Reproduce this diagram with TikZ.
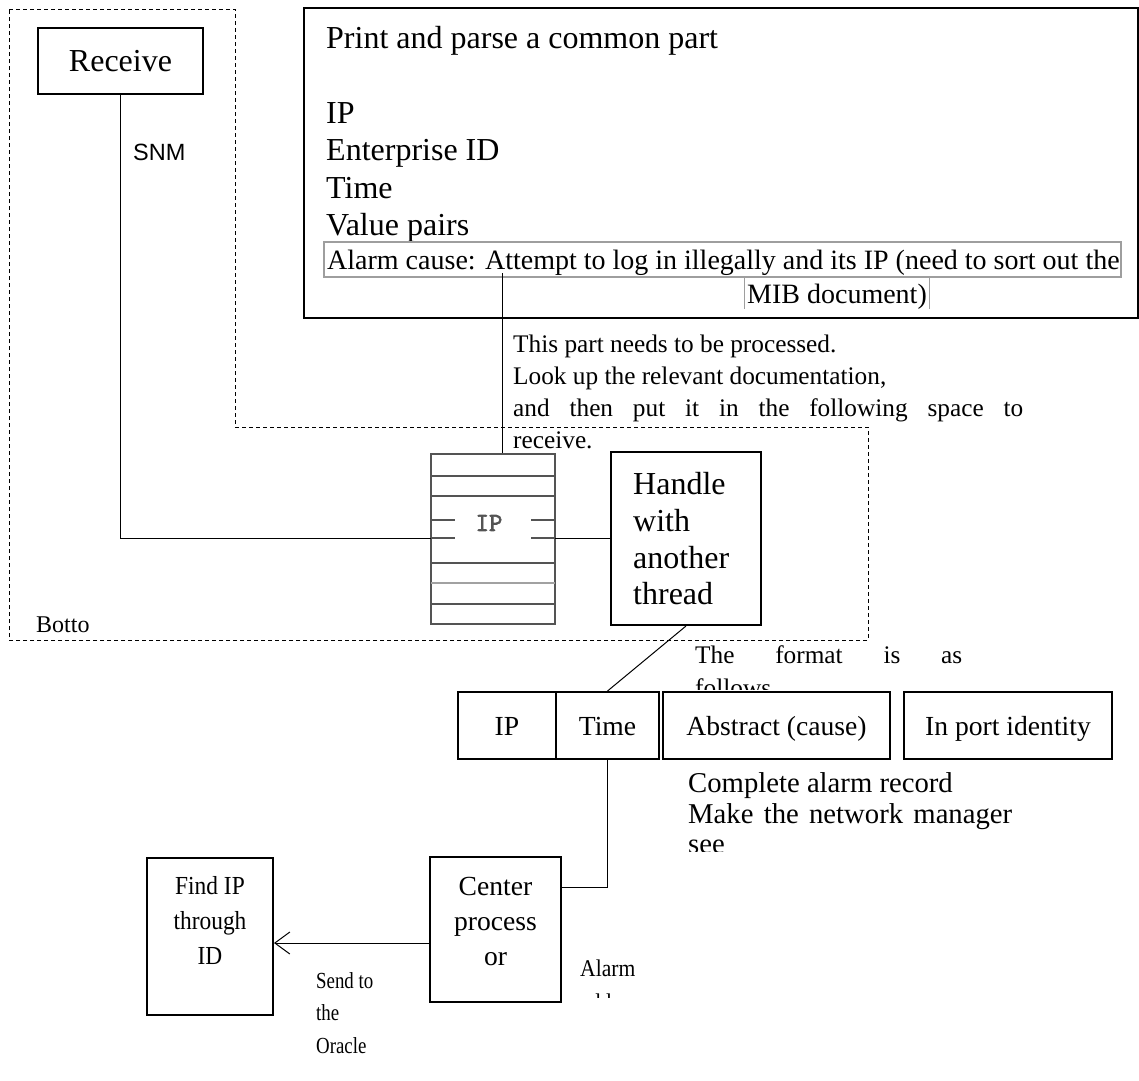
\documentclass[tikz,border=0pt]{standalone}
\usepackage{fontspec}
\setmainfont{Liberation Serif}
\newfontfamily\condA{Liberation Serif}[FakeStretch=0.9]
\newfontfamily\condB{Liberation Serif}[FakeStretch=0.82]
\newfontfamily\snmfont{Liberation Sans}
\newfontfamily\iconfont{Latin Modern Mono}[FakeBold=2.5]
\usetikzlibrary{arrows.meta}
\definecolor{iconc}{rgb}{0.33,0.33,0.33}
\definecolor{framec}{rgb}{0.62,0.62,0.62}
\begin{document}
\begin{tikzpicture}[x=1pt,y=-1pt,
  boxk/.style={draw=black, line width=2pt, inner sep=0pt},
  wire/.style={draw=black, line width=1pt},
  dashregion/.style={draw=black, line width=1pt, dash pattern=on 4pt off 3pt},
  tbig/.style={anchor=base west, inner sep=0pt, font=\fontsize{32}{37}\selectfont},
  trow/.style={anchor=base, inner sep=0pt, font=\fontsize{27.6}{32}\selectfont},
  tmid/.style={anchor=base west, inner sep=0pt, font=\fontsize{28.7}{32}\selectfont},
  tsmall/.style={anchor=base west, inner sep=0pt, font=\fontsize{25.3}{30}\selectfont},
  tcen/.style={anchor=base, inner sep=0pt, font=\fontsize{27.6}{32}\selectfont},
  tfind/.style={anchor=base, inner sep=0pt, font=\condA\fontsize{26}{30}\selectfont},
  talarmlbl/.style={anchor=base west, inner sep=0pt, font=\condA\fontsize{24}{28}\selectfont},
  tsend/.style={anchor=base west, inner sep=0pt, font=\condB\fontsize{23}{28}\selectfont},
  talarm/.style={anchor=base west, inner sep=0pt, font=\fontsize{28}{34}\selectfont},
  iconline/.style={draw=iconc, line width=2pt},
  arrowtip/.style={-{Straight Barb[length=15pt,width=22pt,line width=1pt]}}
]
\useasboundingbox (0,0) rectangle (1139,1080);
\fill[white] (0,0) rectangle (1139,1080);

% dashed region
\draw[dashregion] (9,9) -- (235,9) -- (235,427) -- (868,427) -- (868,640) -- (9,640) -- cycle;

% Receive
\node[boxk, minimum width=165pt, minimum height=66pt] (recv) at (120.5,61) {};
\node[inner sep=0pt, font=\fontsize{32}{37}\selectfont] (recvt) at (recv.center) {Receive};
\node[anchor=base west, inner sep=0pt, font=\snmfont\fontsize{23.5}{28}\selectfont] (snm) at (133,160) {SNM};

% top box
\node[boxk, minimum width=834pt, minimum height=310pt] (topbox) at (721,163) {};
\node[tbig] (t1) at (326,48) {Print and parse a common part};
\node[tbig] (t2) at (326,123) {IP};
\node[tbig] (t3) at (326,160) {Enterprise ID};
\node[tbig] (t4) at (326,198) {Time};
\node[tbig] (t5) at (326,235) {Value pairs};
\node[draw=framec, line width=1.2pt, inner sep=0pt, minimum width=797pt, minimum height=35pt] (alarmbox) at (722.5,259.5) {};
\node[talarm] (t6) at (327,269) {Alarm cause: Attempt to log in illegally and its IP (need to sort out the};
\node[inner sep=0pt, minimum width=184pt, minimum height=32pt] (mibbox) at (837,293) {};
\draw[framec, line width=1.2pt] (mibbox.north west) -- (mibbox.south west);
\draw[framec, line width=1.2pt] (mibbox.north east) -- (mibbox.south east);
\node[anchor=base, inner sep=0pt, font=\fontsize{28}{34}\selectfont] (t7) at (837,303) {MIB document)};

% text block
\node[tsmall] (p1) at (513,352) {This part needs to be processed.};
\node[tsmall] (p2) at (513,384) {Look up the relevant documentation,};
\node[tsmall] (p3) at (513,416) {\makebox[510pt][s]{and then put it in the following space to}};
\node[tsmall] (p4) at (513,448) {receive.};

% IP icon
\node[draw=iconc, line width=2pt, inner sep=0pt, minimum width=124pt, minimum height=170pt] (icon) at (493,539) {};
\draw[iconline] (431,476) -- (555,476);
\draw[iconline] (431,496) -- (555,496);
\draw[iconline] (431,520) -- (455,520);
\draw[iconline] (431,538) -- (455,538);
\draw[iconline] (531,520) -- (555,520);
\draw[iconline] (531,538) -- (555,538);
\draw[iconline] (431,563) -- (555,563);
\draw[draw=iconc!55, line width=2pt] (431,583) -- (555,583);
\draw[iconline] (431,604) -- (555,604);
\node[inner sep=0pt, font=\iconfont\fontsize{26}{26}\selectfont, text=iconc] (iptext) at (489,523) {IP};
\coordinate (iconL) at (431,538);
\coordinate (iconR) at (555,538);

% Handle box
\node[boxk, minimum width=150pt, minimum height=173pt] (handle) at (686,538.5) {};
\node[tbig] (h1) at (633,494) {Handle};
\node[tbig] (h2) at (633,531) {with};
\node[tbig] (h3) at (633,568) {another};
\node[tbig] (h4) at (633,604) {thread};

\node[anchor=base west, inner sep=0pt, font=\fontsize{24}{28}\selectfont] (botto) at (36,632) {Botto};

% connectors in upper part
\draw[wire] (recv.south) |- (iconL);
\draw[wire] (iconR) -- (iconR -| handle.west);
\coordinate (alarmPt) at (502,273);
\draw[wire] (alarmPt) -- (alarmPt |- icon.north);

% format text
\node[tsmall] (f1) at (695,663) {\makebox[267pt][s]{The format is as}};
\begin{scope}
  \clip (690,670) rectangle (1000,689);
  \node[tsmall] (f2) at (695,696) {follows};
\end{scope}

% record row
\node[boxk, minimum width=98pt, minimum height=67pt] (ipb) at (507,725.5) {};
\node[boxk, minimum width=103pt, minimum height=67pt] (timeb) at (607.5,725.5) {};
\node[boxk, minimum width=227pt, minimum height=67pt] (absb) at (776.5,725.5) {};
\node[boxk, minimum width=208pt, minimum height=67pt] (portb) at (1008,725.5) {};
\node[trow] (r1) at (507,735) {IP};
\node[trow] (r2) at (607.5,735) {Time};
\node[trow] (r3) at (776.5,735) {Abstract (cause)};
\node[trow] (r4) at (1008,735) {In port identity};

\draw[wire] (handle.south) -- (timeb.north);

% complete alarm record
\node[tmid] (c1) at (688,792) {Complete alarm record};
\node[tmid] (c2) at (688,823) {\makebox[324pt][s]{Make the network manager}};
\begin{scope}
  \clip (680,832) rectangle (800,851);
  \node[tmid] (c3) at (688,853) {see};
\end{scope}

% center processor
\node[boxk, minimum width=131pt, minimum height=145pt] (center) at (495.5,929.5) {};
\node[tcen] (cp1) at (495.5,895) {Center};
\node[tcen] (cp2) at (495.5,930) {process};
\node[tcen] (cp3) at (495.5,965) {or};

% find IP
\node[boxk, minimum width=126pt, minimum height=157pt] (findip) at (210,936.5) {};
\node[tfind] (fi1) at (210,894) {Find IP};
\node[tfind] (fi2) at (210,929) {through};
\node[tfind] (fi3) at (210,964) {ID};

% connectors lower part
\coordinate (cpR) at (561,887);
\draw[wire] (timeb.south) |- (cpR);
\coordinate (cpL) at (430,943);
\draw[wire, arrowtip] (cpL) -- (cpL -| findip.east);

% labels
\node[talarmlbl] (al1) at (580,976) {Alarm};
\begin{scope}
  \clip (575,985) rectangle (700,997);
  \node[talarmlbl] (al2) at (580,1010) {address};
\end{scope}
\node[tsend] (s1) at (316,988) {Send to};
\node[tsend] (s2) at (316,1020) {the};
\node[tsend] (s3) at (316,1053) {Oracle};
\end{tikzpicture}
\end{document}
